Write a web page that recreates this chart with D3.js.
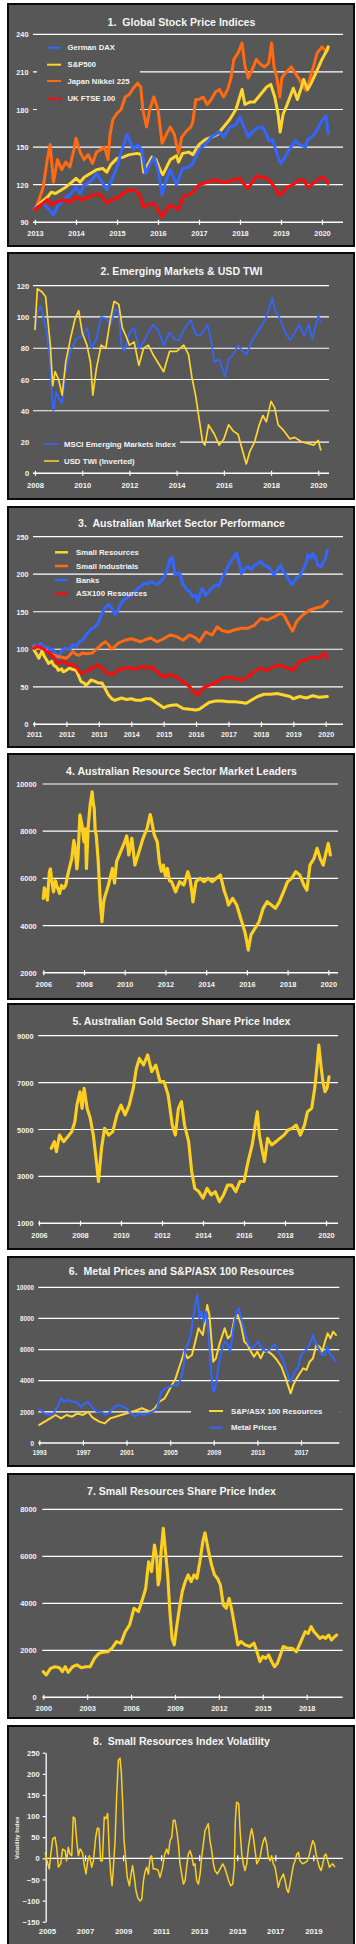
<!DOCTYPE html>
<html><head><meta charset="utf-8">
<script src="https://cdn.jsdelivr.net/npm/d3@7"></script>
<style>
html,body{margin:0;padding:0;background:#fff;}
svg{display:block;font-family:"Liberation Sans",Arial,Helvetica,sans-serif;font-weight:bold;}
</style></head><body>
<svg id="c" width="356" height="1944"></svg>
<script>
// ---------------- DATA ----------------
// Panel 1 : Global Stock Price Indices  ([year, index])
const p1Names = ["German DAX","S&P500","Japan Nikkei 225","UK FTSE 100"];
const p1Dax = [[2013.0,101],[2013.2,105],[2013.35,100],[2013.45,96],[2013.55,103],[2013.7,108],[2013.85,112],[2014.0,118],[2014.1,113],[2014.2,120],[2014.35,122],[2014.5,129],[2014.6,124],[2014.75,116],[2014.85,122],[2015.0,134],[2015.1,146],[2015.25,160],[2015.4,148],[2015.5,152],[2015.6,148],[2015.7,129],[2015.8,136],[2015.9,142],[2016.0,132],[2016.1,112],[2016.2,124],[2016.3,132],[2016.45,120],[2016.6,133],[2016.75,134],[2016.85,137],[2017.0,148],[2017.15,152],[2017.3,158],[2017.5,162],[2017.6,158],[2017.75,166],[2017.9,168],[2018.0,174],[2018.1,166],[2018.2,158],[2018.3,162],[2018.4,165],[2018.55,166],[2018.65,160],[2018.7,155],[2018.8,156],[2018.85,150],[2018.95,140],[2019.0,137],[2019.1,142],[2019.2,148],[2019.35,155],[2019.45,152],[2019.6,150],[2019.65,156],[2019.75,158],[2019.85,162],[2020.0,171],[2020.1,175],[2020.15,161]];
const p1Sp500 = [[2013.0,101],[2013.15,106],[2013.3,110],[2013.4,114],[2013.5,113],[2013.65,116],[2013.75,118],[2013.9,122],[2014.0,125],[2014.1,122],[2014.2,126],[2014.35,129],[2014.5,132],[2014.65,133],[2014.75,130],[2014.85,136],[2015.0,141],[2015.15,142],[2015.3,144],[2015.5,145],[2015.6,144],[2015.65,130],[2015.75,136],[2015.85,142],[2015.95,140],[2016.05,132],[2016.12,128],[2016.3,140],[2016.45,143],[2016.5,138],[2016.6,145],[2016.75,146],[2016.85,144],[2017.0,152],[2017.15,156],[2017.3,158],[2017.45,160],[2017.6,166],[2017.75,172],[2017.9,180],[2018.05,196],[2018.12,184],[2018.25,186],[2018.35,186],[2018.5,192],[2018.65,198],[2018.75,200],[2018.85,190],[2018.93,176],[2018.98,162],[2019.05,176],[2019.15,184],[2019.3,197],[2019.4,188],[2019.5,198],[2019.55,204],[2019.65,196],[2019.75,202],[2019.85,209],[2020.0,220],[2020.1,226],[2020.15,230]];
const p1Nikkei = [[2013.0,100],[2013.1,108],[2013.2,118],[2013.3,140],[2013.37,152],[2013.45,122],[2013.55,140],[2013.65,132],[2013.75,138],[2013.85,134],[2013.95,148],[2014.0,157],[2014.1,146],[2014.2,140],[2014.3,144],[2014.4,137],[2014.5,146],[2014.6,148],[2014.7,150],[2014.78,140],[2014.83,160],[2014.9,172],[2015.0,177],[2015.1,180],[2015.2,190],[2015.3,192],[2015.4,197],[2015.5,201],[2015.58,198],[2015.63,180],[2015.72,166],[2015.8,180],[2015.9,190],[2016.0,180],[2016.1,153],[2016.2,160],[2016.3,166],[2016.4,160],[2016.45,152],[2016.5,145],[2016.58,158],[2016.7,163],[2016.8,166],[2016.85,170],[2016.92,188],[2017.0,188],[2017.1,190],[2017.2,184],[2017.3,188],[2017.4,194],[2017.5,196],[2017.6,190],[2017.7,196],[2017.78,205],[2017.85,220],[2017.95,225],[2018.05,233],[2018.12,215],[2018.2,205],[2018.3,212],[2018.4,220],[2018.5,216],[2018.6,214],[2018.7,217],[2018.77,233],[2018.83,214],[2018.9,205],[2018.97,190],[2019.02,205],[2019.1,209],[2019.2,212],[2019.25,214],[2019.35,209],[2019.45,204],[2019.55,198],[2019.62,195],[2019.7,204],[2019.8,215],[2019.88,225],[2020.0,230],[2020.1,226],[2020.15,228]];
const p1Ftse = [[2013.0,100],[2013.15,104],[2013.3,108],[2013.4,104],[2013.5,106],[2013.7,108],[2013.85,106],[2014.0,110],[2014.15,108],[2014.3,110],[2014.45,112],[2014.6,112],[2014.75,105],[2014.85,108],[2015.0,109],[2015.15,113],[2015.3,116],[2015.45,115],[2015.55,112],[2015.65,102],[2015.75,104],[2015.9,105],[2016.0,100],[2016.1,94],[2016.2,100],[2016.3,104],[2016.4,102],[2016.5,100],[2016.55,104],[2016.6,110],[2016.75,112],[2016.85,114],[2017.0,120],[2017.2,122],[2017.4,124],[2017.55,122],[2017.7,122],[2017.85,124],[2018.0,125],[2018.1,120],[2018.2,117],[2018.3,122],[2018.4,127],[2018.5,126],[2018.6,126],[2018.75,122],[2018.85,118],[2018.95,112],[2019.0,112],[2019.15,118],[2019.3,120],[2019.45,124],[2019.55,124],[2019.65,118],[2019.75,120],[2019.9,124],[2020.0,126],[2020.1,124],[2020.15,121]];
const p1YTicks = [90,120,150,180,210,240];
const p1XTicks = [2013,2014,2015,2016,2017,2018,2019,2020];

// Panel 2 : Emerging Markets & USD TWI
const p2Names = ["MSCI Emerging Markets Index","USD TWI (Inverted)"];
const p2Msci = [[2008.0,92],[2008.1,103],[2008.25,107],[2008.4,97],[2008.5,90],[2008.6,76],[2008.7,55],[2008.78,40],[2008.9,52],[2009.0,48],[2009.15,45],[2009.3,65],[2009.5,78],[2009.75,86],[2010.0,88],[2010.2,93],[2010.4,80],[2010.6,86],[2010.8,100],[2011.0,99],[2011.2,95],[2011.4,105],[2011.55,103],[2011.65,82],[2011.8,78],[2012.0,90],[2012.2,93],[2012.4,80],[2012.6,84],[2012.8,90],[2013.0,95],[2013.2,92],[2013.45,82],[2013.7,90],[2013.9,86],[2014.1,85],[2014.3,92],[2014.6,98],[2014.8,89],[2015.0,88],[2015.3,95],[2015.45,86],[2015.6,71],[2015.8,73],[2016.05,62],[2016.2,73],[2016.4,76],[2016.6,82],[2016.8,78],[2016.95,76],[2017.2,85],[2017.5,92],[2017.8,100],[2018.05,112],[2018.15,105],[2018.35,100],[2018.55,92],[2018.8,85],[2019.0,90],[2019.2,95],[2019.4,88],[2019.6,95],[2019.75,86],[2020.0,101],[2020.1,97]];
const p2Usd = [[2008.0,92],[2008.1,118],[2008.3,116],[2008.45,113],[2008.55,97],[2008.65,82],[2008.75,56],[2008.85,65],[2009.0,60],[2009.15,50],[2009.3,71],[2009.5,86],[2009.7,99],[2009.85,104],[2010.0,90],[2010.2,82],[2010.35,71],[2010.45,50],[2010.6,67],[2010.8,82],[2011.0,80],[2011.2,99],[2011.35,110],[2011.55,108],[2011.7,93],[2011.85,88],[2012.0,82],[2012.2,84],[2012.4,69],[2012.6,80],[2012.8,82],[2013.0,76],[2013.2,71],[2013.45,65],[2013.7,78],[2014.0,78],[2014.3,82],[2014.5,76],[2014.65,61],[2014.8,50],[2014.95,35],[2015.1,20],[2015.2,18],[2015.35,31],[2015.6,25],[2015.8,18],[2016.0,22],[2016.2,31],[2016.4,27],[2016.6,25],[2016.8,14],[2016.95,6],[2017.1,14],[2017.3,20],[2017.5,31],[2017.65,37],[2017.8,33],[2018.0,46],[2018.15,42],[2018.3,31],[2018.5,28],[2018.8,22],[2019.0,23],[2019.3,20],[2019.6,19],[2019.8,18],[2020.0,21],[2020.1,15]];
const p2YTicks = [0,20,40,60,80,100,120];
const p2XTicks = [2008,2010,2012,2014,2016,2018,2020];

// Panel 3 : Australian Market Sector Performance
const p3Names = ["Small Resources","Small Industrials","Banks","ASX100 Resources"];
const p3Banks = [[2011.0,106],[2011.1,104],[2011.2,108],[2011.3,103],[2011.4,103],[2011.5,100],[2011.6,99],[2011.7,92],[2011.75,88],[2011.85,98],[2011.95,101],[2012.1,100],[2012.2,106],[2012.3,104],[2012.4,110],[2012.5,112],[2012.6,119],[2012.7,124],[2012.8,128],[2012.9,130],[2013.0,137],[2013.1,148],[2013.2,155],[2013.3,160],[2013.4,155],[2013.5,146],[2013.6,152],[2013.7,163],[2013.85,168],[2014.0,172],[2014.1,176],[2014.2,181],[2014.3,184],[2014.4,188],[2014.5,187],[2014.6,190],[2014.7,188],[2014.8,186],[2014.9,190],[2015.0,195],[2015.1,205],[2015.2,220],[2015.27,223],[2015.35,199],[2015.45,202],[2015.5,201],[2015.6,186],[2015.7,180],[2015.8,177],[2015.9,170],[2016.0,172],[2016.05,163],[2016.15,178],[2016.2,181],[2016.3,172],[2016.4,177],[2016.5,182],[2016.6,186],[2016.7,184],[2016.8,195],[2016.9,202],[2017.0,212],[2017.15,222],[2017.25,228],[2017.35,212],[2017.4,201],[2017.5,207],[2017.6,210],[2017.7,206],[2017.8,212],[2017.9,214],[2018.0,217],[2018.1,212],[2018.2,210],[2018.3,206],[2018.4,199],[2018.5,205],[2018.6,212],[2018.7,204],[2018.8,197],[2018.9,190],[2018.95,186],[2019.05,192],[2019.1,195],[2019.2,198],[2019.3,206],[2019.4,215],[2019.45,226],[2019.55,222],[2019.6,228],[2019.7,220],[2019.75,212],[2019.85,210],[2019.9,214],[2020.0,222],[2020.05,232]];
const p3SmallInd = [[2011.0,103],[2011.2,101],[2011.4,97],[2011.6,92],[2011.8,90],[2012.0,88],[2012.1,92],[2012.2,97],[2012.3,93],[2012.4,92],[2012.5,95],[2012.6,94],[2012.8,95],[2012.9,99],[2013.0,103],[2013.1,107],[2013.2,110],[2013.3,106],[2013.4,100],[2013.5,104],[2013.6,108],[2013.8,112],[2014.0,114],[2014.15,112],[2014.3,110],[2014.45,113],[2014.6,115],[2014.8,110],[2015.0,114],[2015.2,119],[2015.4,117],[2015.6,112],[2015.8,119],[2016.0,115],[2016.1,110],[2016.3,123],[2016.5,119],[2016.65,130],[2016.8,125],[2017.0,123],[2017.2,126],[2017.4,128],[2017.6,128],[2017.8,132],[2018.0,141],[2018.2,139],[2018.4,143],[2018.6,148],[2018.72,145],[2018.8,138],[2018.9,130],[2018.98,124],[2019.1,137],[2019.3,146],[2019.5,152],[2019.7,155],[2019.9,157],[2020.05,164]];
const p3AsxRes = [[2011.0,101],[2011.1,104],[2011.2,103],[2011.3,100],[2011.4,97],[2011.5,94],[2011.6,90],[2011.75,81],[2011.9,84],[2012.0,82],[2012.1,79],[2012.2,80],[2012.3,77],[2012.4,70],[2012.5,68],[2012.6,70],[2012.8,75],[2013.0,79],[2013.1,75],[2013.2,70],[2013.4,66],[2013.6,72],[2013.8,75],[2014.0,75],[2014.15,73],[2014.3,77],[2014.5,75],[2014.6,77],[2014.8,70],[2015.0,63],[2015.2,66],[2015.4,63],[2015.6,57],[2015.8,50],[2015.95,42],[2016.05,39],[2016.2,48],[2016.4,52],[2016.6,55],[2016.8,61],[2017.0,63],[2017.2,61],[2017.4,59],[2017.6,63],[2017.8,70],[2018.0,75],[2018.2,72],[2018.4,77],[2018.6,79],[2018.8,75],[2019.0,72],[2019.2,84],[2019.4,86],[2019.6,90],[2019.8,88],[2019.95,95],[2020.05,88]];
const p3SmallRes = [[2011.0,99],[2011.1,92],[2011.15,88],[2011.25,98],[2011.3,92],[2011.4,85],[2011.45,81],[2011.55,84],[2011.6,79],[2011.7,76],[2011.75,72],[2011.85,74],[2011.9,70],[2012.0,72],[2012.1,75],[2012.2,73],[2012.3,72],[2012.4,62],[2012.45,57],[2012.55,55],[2012.6,52],[2012.7,56],[2012.75,59],[2012.9,57],[2013.0,55],[2013.1,55],[2013.2,47],[2013.3,39],[2013.4,34],[2013.5,32],[2013.7,35],[2013.85,33],[2014.0,34],[2014.15,32],[2014.3,32],[2014.45,34],[2014.6,34],[2014.8,28],[2014.9,25],[2015.0,22],[2015.1,24],[2015.2,25],[2015.4,26],[2015.6,21],[2015.8,20],[2016.0,19],[2016.1,20],[2016.2,23],[2016.4,29],[2016.6,31],[2016.8,31],[2017.0,30],[2017.2,30],[2017.4,29],[2017.55,28],[2017.7,32],[2017.9,37],[2018.1,40],[2018.3,40],[2018.5,41],[2018.7,39],[2018.9,37],[2019.0,34],[2019.2,37],[2019.4,35],[2019.6,38],[2019.8,36],[2020.05,37]];
const p3YTicks = [0,50,100,150,200,250];
const p3XTicks = [2011,2012,2013,2014,2015,2016,2017,2018,2019,2020];

// Panel 4 : Australian Resource Sector Market Leaders
const p4Leaders = [[2006.0,5150],[2006.05,5600],[2006.1,5500],[2006.2,5080],[2006.3,6280],[2006.35,6400],[2006.4,6000],[2006.5,5430],[2006.6,5900],[2006.65,5720],[2006.8,5360],[2006.9,5700],[2007.0,5580],[2007.1,5700],[2007.2,6140],[2007.3,6500],[2007.4,6850],[2007.5,7600],[2007.55,7410],[2007.65,6400],[2007.7,6850],[2007.8,8690],[2007.9,8260],[2008.0,7550],[2008.07,8100],[2008.12,6420],[2008.2,8120],[2008.3,9100],[2008.4,9670],[2008.45,9200],[2008.5,8970],[2008.55,8000],[2008.6,7840],[2008.7,6710],[2008.8,5010],[2008.88,4160],[2008.95,4900],[2009.0,5150],[2009.2,5720],[2009.4,6420],[2009.5,5800],[2009.6,6710],[2009.8,7130],[2010.0,7550],[2010.1,7800],[2010.2,6990],[2010.35,7700],[2010.5,6560],[2010.7,7130],[2010.9,7700],[2011.1,8120],[2011.25,8700],[2011.3,8540],[2011.45,7840],[2011.6,7550],[2011.7,6710],[2011.8,6300],[2011.9,6560],[2012.0,6100],[2012.1,6420],[2012.2,5900],[2012.3,5860],[2012.5,5430],[2012.7,5860],[2012.9,5720],[2013.1,6280],[2013.2,6000],[2013.3,5430],[2013.35,5000],[2013.5,5860],[2013.7,6000],[2013.9,5860],[2014.1,6000],[2014.3,5860],[2014.5,6000],[2014.7,6140],[2014.9,5430],[2015.0,5200],[2015.1,4870],[2015.3,5150],[2015.5,4870],[2015.7,4300],[2015.9,3740],[2016.0,3300],[2016.07,2960],[2016.2,3600],[2016.4,3880],[2016.6,4160],[2016.8,4730],[2017.0,5010],[2017.2,4870],[2017.4,4730],[2017.6,5010],[2017.8,5430],[2018.0,5860],[2018.2,6000],[2018.4,6280],[2018.6,6140],[2018.8,5720],[2018.95,5500],[2019.1,6560],[2019.3,6850],[2019.45,7270],[2019.6,6850],[2019.75,6560],[2019.9,7130],[2020.0,7480],[2020.1,6990]];
const p4YTicks = [2000,4000,6000,8000,10000];
const p4XTicks = [2006,2008,2010,2012,2014,2016,2018,2020];

// Panel 5 : Australian Gold Sector Share Price Index
const p5Gold = [[2006.6,4200],[2006.75,4480],[2006.85,4050],[2007.0,4760],[2007.2,4480],[2007.4,4690],[2007.6,4910],[2007.75,5330],[2007.85,6040],[2008.0,6610],[2008.1,5900],[2008.2,6760],[2008.35,5900],[2008.5,5480],[2008.65,4760],[2008.8,3630],[2008.9,2780],[2009.05,4200],[2009.2,5050],[2009.4,4760],[2009.6,4910],[2009.8,5620],[2010.0,6040],[2010.2,5620],[2010.4,6040],[2010.6,6760],[2010.75,7610],[2010.9,8030],[2011.1,7750],[2011.3,8180],[2011.5,7470],[2011.7,7750],[2011.9,7040],[2012.1,7040],[2012.3,6470],[2012.5,5190],[2012.65,4760],[2012.8,5900],[2012.95,6190],[2013.1,5190],[2013.3,4480],[2013.45,3200],[2013.6,2490],[2013.8,2350],[2014.0,2070],[2014.2,2490],[2014.4,2210],[2014.6,2350],[2014.8,1920],[2015.0,2210],[2015.2,2630],[2015.4,2630],[2015.6,2350],[2015.8,2780],[2016.0,2780],[2016.2,3630],[2016.4,4340],[2016.6,5480],[2016.65,5760],[2016.75,4760],[2016.9,4050],[2017.0,3630],[2017.15,4620],[2017.35,4340],[2017.55,4480],[2017.75,4620],[2017.95,4760],[2018.15,4980],[2018.35,5050],[2018.55,5190],[2018.75,4760],[2018.95,5190],[2019.1,5760],[2019.3,5900],[2019.45,6760],[2019.55,7610],[2019.65,8600],[2019.75,7750],[2019.85,7040],[2019.95,6610],[2020.05,6760],[2020.15,7250]];
const p5YTicks = [1000,3000,5000,7000,9000];
const p5XTicks = [2006,2008,2010,2012,2014,2016,2018,2020];

// Panel 6 : Metal Prices and S&P/ASX 100 Resources
const p6Names = ["S&P/ASX 100 Resources","Metal Prices"];
const p6AsxRes = [[1993.0,1160],[1993.5,1370],[1994.0,1580],[1994.5,1800],[1995.0,1580],[1995.5,1800],[1996.0,1690],[1996.5,1900],[1997.0,1800],[1997.5,2010],[1997.8,1690],[1998.0,1580],[1998.5,1370],[1999.0,1260],[1999.5,1580],[2000.0,1690],[2000.5,1800],[2001.0,1900],[2001.5,2010],[2002.0,2120],[2002.4,2230],[2002.8,2120],[2003.2,2010],[2003.6,2230],[2004.0,2650],[2004.5,2870],[2005.0,3510],[2005.5,4150],[2005.8,4800],[2006.0,5220],[2006.3,5870],[2006.6,5440],[2007.0,5650],[2007.3,6510],[2007.6,7370],[2007.8,7150],[2008.0,6940],[2008.2,7790],[2008.4,8870],[2008.6,8220],[2008.8,6510],[2008.95,5220],[2009.2,5440],[2009.5,6300],[2009.8,6940],[2010.0,7370],[2010.3,6720],[2010.6,6940],[2010.9,8010],[2011.2,8220],[2011.5,7580],[2011.8,6510],[2012.1,6300],[2012.4,5870],[2012.7,5550],[2013.0,5870],[2013.3,5440],[2013.6,5870],[2014.0,5870],[2014.4,5650],[2014.8,5330],[2015.2,4900],[2015.6,4150],[2015.9,3510],[2016.05,3190],[2016.3,3730],[2016.6,4150],[2016.9,4480],[2017.2,4800],[2017.5,4690],[2017.8,5220],[2018.1,5440],[2018.4,6300],[2018.7,6190],[2018.95,5870],[2019.2,6510],[2019.45,7040],[2019.7,6720],[2019.95,7150],[2020.2,6940]];
const p6Metals = [[1993.0,2180],[1993.5,1900],[1994.0,1800],[1994.3,1900],[1994.6,2230],[1995.0,2870],[1995.3,2650],[1995.6,2760],[1996.0,2650],[1996.4,2650],[1996.8,2330],[1997.2,2550],[1997.5,2650],[1997.9,2230],[1998.3,2010],[1998.7,2010],[1999.1,1800],[1999.5,2010],[1999.9,2330],[2000.3,2440],[2000.7,2330],[2001.0,2230],[2001.4,1900],[2001.8,1690],[2002.2,1900],[2002.6,1800],[2003.0,1900],[2003.4,2010],[2003.8,2230],[2004.2,3300],[2004.6,3510],[2005.0,3620],[2005.4,3730],[2005.7,3730],[2006.0,4150],[2006.2,4800],[2006.4,6080],[2006.6,6300],[2006.9,6940],[2007.1,8010],[2007.3,8870],[2007.5,9500],[2007.7,8010],[2007.9,8440],[2008.1,7790],[2008.3,8440],[2008.5,7150],[2008.7,5220],[2008.85,3730],[2009.0,3300],[2009.2,3730],[2009.4,4800],[2009.7,5870],[2010.0,6510],[2010.3,6300],[2010.5,5870],[2010.8,7370],[2011.1,8440],[2011.3,8650],[2011.6,7790],[2011.9,6940],[2012.2,6300],[2012.5,6080],[2012.8,6300],[2013.1,6510],[2013.4,6080],[2013.8,5870],[2014.2,6080],[2014.6,6300],[2014.9,5870],[2015.3,5440],[2015.6,4800],[2015.9,4150],[2016.1,3940],[2016.4,4580],[2016.7,4800],[2017.0,5650],[2017.3,5870],[2017.6,6080],[2017.9,6510],[2018.1,6940],[2018.3,6510],[2018.6,6080],[2018.9,5650],[2019.2,5650],[2019.4,6190],[2019.7,5650],[2020.0,5440],[2020.2,5220]];
const p6YTicks = [0,2000,4000,6000,8000,10000];
const p6XTicks = [1993,1997,2001,2005,2009,2013,2017];

// Panel 7 : Small Resources Share Price Index
const p7SmallRes = [[2000.0,1090],[2000.2,950],[2000.5,1230],[2000.8,1300],[2001.1,1260],[2001.3,1090],[2001.5,1300],[2001.7,1060],[2002.0,1300],[2002.3,1380],[2002.6,1260],[2002.9,1300],[2003.2,1300],[2003.5,1660],[2003.8,1870],[2004.1,1920],[2004.4,1940],[2004.7,2090],[2005.0,2370],[2005.3,2300],[2005.6,2790],[2005.9,3080],[2006.2,3790],[2006.5,3650],[2006.8,4210],[2007.0,4640],[2007.2,5770],[2007.4,5350],[2007.6,6480],[2007.75,5920],[2007.85,4780],[2007.95,5060],[2008.05,6200],[2008.2,7190],[2008.35,6200],[2008.5,5210],[2008.65,3650],[2008.8,2510],[2008.95,2230],[2009.1,2940],[2009.3,3790],[2009.5,4500],[2009.7,4920],[2009.9,5210],[2010.1,4920],[2010.3,5210],[2010.5,5060],[2010.7,5770],[2010.9,6620],[2011.05,7000],[2011.3,6200],[2011.5,5630],[2011.7,5210],[2011.9,5060],[2012.1,4780],[2012.3,3930],[2012.5,3790],[2012.7,4210],[2012.9,3650],[2013.1,2940],[2013.3,2230],[2013.5,2370],[2013.8,2230],[2014.1,2160],[2014.4,2300],[2014.6,1940],[2014.8,1520],[2015.0,1730],[2015.2,1660],[2015.4,1800],[2015.6,1520],[2015.8,1300],[2016.0,1450],[2016.2,1800],[2016.4,2160],[2016.7,2090],[2017.0,2090],[2017.3,1940],[2017.6,2370],[2017.9,2790],[2018.1,2720],[2018.3,3010],[2018.5,2790],[2018.7,2650],[2018.9,2510],[2019.1,2580],[2019.3,2510],[2019.5,2650],[2019.7,2440],[2019.9,2580],[2020.05,2650]];
const p7YTicks = [0,2000,4000,6000,8000];
const p7XTicks = [2000,2003,2006,2009,2012,2015,2018];

// Panel 8 : Small Resources Index Volatility
const p8Vol = [[2004.9,14],[2004.98,-2],[2005.12,-25],[2005.19,6],[2005.3,46],[2005.42,50],[2005.51,26],[2005.6,-21],[2005.72,-13],[2005.82,22],[2005.95,18],[2006.03,-6],[2006.12,26],[2006.21,10],[2006.3,6],[2006.38,98],[2006.47,94],[2006.56,42],[2006.65,6],[2006.74,22],[2006.86,14],[2006.95,-13],[2007.05,-37],[2007.14,-6],[2007.23,6],[2007.35,-21],[2007.44,-6],[2007.56,50],[2007.65,72],[2007.73,70],[2007.82,-6],[2007.91,-6],[2008.01,98],[2008.1,94],[2008.19,106],[2008.28,10],[2008.35,-37],[2008.42,-65],[2008.49,-21],[2008.58,42],[2008.66,145],[2008.75,232],[2008.84,237],[2008.91,201],[2008.98,129],[2009.05,42],[2009.12,6],[2009.22,-45],[2009.33,-65],[2009.42,-37],[2009.5,-17],[2009.59,-45],[2009.68,-77],[2009.77,-93],[2009.89,-101],[2009.98,-97],[2010.07,-53],[2010.15,-33],[2010.24,-21],[2010.33,-37],[2010.42,2],[2010.5,6],[2010.59,-25],[2010.73,-25],[2010.85,-29],[2010.94,-45],[2011.06,-25],[2011.17,6],[2011.29,22],[2011.38,10],[2011.47,42],[2011.56,50],[2011.64,90],[2011.73,90],[2011.82,66],[2011.91,34],[2011.99,-13],[2012.08,-37],[2012.17,-61],[2012.26,-53],[2012.34,-21],[2012.43,10],[2012.52,18],[2012.61,6],[2012.7,-17],[2012.78,-13],[2012.87,-53],[2012.96,-61],[2013.05,-37],[2013.13,2],[2013.22,34],[2013.31,66],[2013.4,74],[2013.48,82],[2013.57,42],[2013.66,18],[2013.75,-13],[2013.83,-29],[2013.96,-37],[2014.1,-25],[2014.24,-13],[2014.33,-21],[2014.45,-37],[2014.55,-53],[2014.66,-65],[2014.76,-61],[2014.85,-21],[2014.9,90],[2014.97,133],[2015.08,129],[2015.15,66],[2015.24,10],[2015.32,-13],[2015.41,-29],[2015.5,-13],[2015.59,26],[2015.67,50],[2015.76,70],[2015.85,50],[2015.94,18],[2016.03,-13],[2016.11,-6],[2016.2,2],[2016.29,26],[2016.38,42],[2016.46,50],[2016.55,34],[2016.64,2],[2016.73,-6],[2016.81,6],[2016.9,-13],[2016.99,-21],[2017.08,-45],[2017.16,-69],[2017.25,-53],[2017.34,-45],[2017.43,-37],[2017.52,-53],[2017.6,-73],[2017.69,-81],[2017.78,-61],[2017.87,-37],[2017.95,-17],[2018.04,-6],[2018.13,10],[2018.22,14],[2018.3,-6],[2018.43,-13],[2018.57,-10],[2018.69,-6],[2018.8,10],[2018.88,26],[2018.97,42],[2019.06,34],[2019.15,10],[2019.23,-6],[2019.32,-21],[2019.41,-29],[2019.5,-13],[2019.58,6],[2019.67,10],[2019.76,-6],[2019.85,-21],[2019.93,-17],[2020.02,-13],[2020.14,-21]];
const p8YTicks = [-150,-100,-50,0,50,100,150,200,250];
const p8XTicks = [2005,2007,2009,2011,2013,2015,2017,2019];

// ---------------- STYLE ----------------
const BG = "#575757", TXT = "#f4f4f4", GRID = "#ffffff";
const BLUE = "#3366ff", YEL = "#ffd52e", ORA = "#ff6a12", RED = "#ff0a0a", GOLD = "#fdd020";

const svg = d3.select("#c");

function drawPanel(p) {
  const g = svg.append("g");
  g.append("rect").attr("x", 8).attr("y", p.box[0]).attr("width", 346).attr("height", p.box[1] - p.box[0])
    .attr("fill", BG).attr("stroke", "#0a0a0a").attr("stroke-width", 2);
  g.append("text").attr("x", 181.5).attr("y", p.titleY).attr("dy", "0.35em").attr("text-anchor", "middle")
    .attr("fill", TXT).style("font-size", "10.6px").style("white-space", "pre").text(p.title);
  const x = d3.scaleLinear().domain(p.xDom).range(p.xPix);
  const y = d3.scaleLinear().domain(p.yDom).range(p.yPix);
  const base = p.yTicks[0];
  g.append("g").selectAll("line").data(p.yTicks.slice(1)).join("line")
    .attr("x1", p.gridX[0]).attr("x2", p.gridX[1]).attr("y1", d => y(d)).attr("y2", d => y(d))
    .attr("stroke", GRID).attr("stroke-width", 1.2);
  g.append("line").attr("x1", p.gridX[0]).attr("x2", p.gridX[1]).attr("y1", y(base)).attr("y2", y(base))
    .attr("stroke", GRID).attr("stroke-width", 1.5);
  const xt = g.append("g").attr("transform", `translate(0,${y(base) - 2.5})`)
    .call(d3.axisBottom(x).tickValues(p.xTicks).tickSize(5).tickFormat(""));
  xt.select(".domain").remove();
  xt.selectAll("line").attr("stroke", GRID).attr("stroke-width", 1.2);
  const xl = g.append("g").attr("transform", `translate(0,${p.xLabelY})`)
    .call(d3.axisBottom(x).tickValues(p.xTicks).tickSize(0).tickPadding(0).tickFormat(d3.format("d")));
  xl.select(".domain").remove();
  xl.selectAll("text").attr("y", 0).attr("dy", "0.35em").attr("fill", TXT)
    .style("font-size", (p.fs || 7.4) + "px").style("font-family", "Liberation Sans, Arial").style("font-weight", "bold");
  const yl = g.append("g").attr("transform", `translate(${p.yLabelX},0)`)
    .call(d3.axisLeft(y).tickValues(p.yTicks).tickSize(0).tickPadding(0).tickFormat(d3.format("d")));
  yl.select(".domain").remove();
  yl.selectAll("text").attr("fill", TXT).attr("dy", "0.35em")
    .style("font-size", (p.fs || 7.3) + "px").style("font-family", "Liberation Sans, Arial").style("font-weight", "bold");
  if (p.legend && p.legend.box) {
    const b = p.legend.box;
    g.append("rect").attr("x", b[0]).attr("y", b[1]).attr("width", b[2] - b[0]).attr("height", b[3] - b[1]).attr("fill", BG);
  }
  const line = d3.line().x(d => x(d[0])).y(d => y(d[1]));
  p.series.forEach(s => {
    g.append("path").datum(s.data).attr("d", line).attr("fill", "none").attr("stroke", s.color)
      .attr("stroke-width", s.w).attr("stroke-linejoin", "round").attr("stroke-linecap", "round");
  });
  if (p.legend) {
    const L = p.legend;
    const it = g.append("g").selectAll("g").data(L.items).join("g");
    it.append("line").attr("x1", L.sw[0]).attr("x2", L.sw[1]).attr("y1", d => d.y).attr("y2", d => d.y)
      .attr("stroke", d => d.color).attr("stroke-width", L.sww);
    it.append("text").attr("x", L.tx).attr("y", d => d.y).attr("dy", "0.35em").attr("fill", TXT)
      .style("font-size", L.fs + "px").text(d => d.label);
  }
  return g;
}

drawPanel({
  box: [4, 246], title: "1.  Global Stock Price Indices", titleY: 22,
  xDom: [2013, 2020], xPix: [35, 322], yDom: [90, 240], yPix: [222.3, 34.3],
  gridX: [33, 343], yTicks: p1YTicks, xTicks: p1XTicks, xLabelY: 233.3, yLabelX: 28.5,
  legend: { box: [37, 40, 140, 113], sw: [47, 61], sww: 2, tx: 67.5, fs: 7.7,
    items: [{label: p1Names[0], color: BLUE, y: 47.7}, {label: p1Names[1], color: YEL, y: 64.7},
            {label: p1Names[2], color: ORA, y: 81}, {label: p1Names[3], color: RED, y: 98.7}] },
  series: [{data: p1Nikkei, color: ORA, w: 3}, {data: p1Sp500, color: YEL, w: 3},
           {data: p1Dax, color: BLUE, w: 3}, {data: p1Ftse, color: RED, w: 3}]
});

drawPanel({
  box: [253, 499], title: "2. Emerging Markets & USD TWI", titleY: 271.7,
  xDom: [2008, 2020], xPix: [35, 318.3], yDom: [0, 120], yPix: [473.3, 285.7],
  gridX: [33, 329], yTicks: p2YTicks, xTicks: p2XTicks, xLabelY: 485, yLabelX: 29.3, fs: 7.6,
  legend: { box: [33, 432, 180, 470], sw: [44, 59], sww: 1.5, tx: 64, fs: 7.8,
    items: [{label: p2Names[0], color: BLUE, y: 444}, {label: p2Names[1], color: YEL, y: 461}] },
  series: [{data: p2Msci, color: BLUE, w: 1.7}, {data: p2Usd, color: YEL, w: 1.7}]
});

drawPanel({
  box: [507, 747], title: "3.  Australian Market Sector Performance", titleY: 523.3,
  xDom: [2011, 2020], xPix: [34, 325.7], yDom: [0, 250], yPix: [724.3, 536.7],
  gridX: [33, 343], yTicks: p3YTicks, xTicks: p3XTicks, xLabelY: 734.3, yLabelX: 28.5, fs: 7.2,
  legend: { box: null, sw: [55, 68], sww: 2.5, tx: 76, fs: 7.8,
    items: [{label: p3Names[0], color: YEL, y: 552.3}, {label: p3Names[1], color: ORA, y: 566},
            {label: p3Names[2], color: BLUE, y: 580}, {label: p3Names[3], color: RED, y: 593.7}] },
  series: [{data: p3Banks, color: BLUE, w: 3}, {data: p3SmallInd, color: ORA, w: 3},
           {data: p3SmallRes, color: YEL, w: 3}, {data: p3AsxRes, color: RED, w: 3}]
});

drawPanel({
  box: [754, 999], title: "4. Australian Resource Sector Market Leaders", titleY: 771,
  xDom: [2006, 2020], xPix: [43.3, 328.3], yDom: [2000, 10000], yPix: [972.7, 784],
  gridX: [42.7, 338], yTicks: p4YTicks, xTicks: p4XTicks, xLabelY: 984.3, yLabelX: 36.7, fs: 7.4,
  series: [{data: p4Leaders, color: GOLD, w: 3.2}]
});

drawPanel({
  box: [1004, 1249], title: "5. Australian Gold Sector Share Price Index", titleY: 1021.7,
  xDom: [2006, 2020], xPix: [39, 326], yDom: [1000, 9000], yPix: [1223.3, 1035.7],
  gridX: [38.3, 338], yTicks: p5YTicks, xTicks: p5XTicks, xLabelY: 1235, yLabelX: 33.5, fs: 7.4,
  series: [{data: p5Gold, color: GOLD, w: 3.1}]
});

drawPanel({
  box: [1257, 1466], title: "6.  Metal Prices and S&P/ASX 100 Resources", titleY: 1271.7,
  xDom: [1993, 2017], xPix: [39.3, 301], yDom: [0, 10000], yPix: [1443, 1287.3],
  gridX: [38.3, 339.3], yTicks: p6YTicks, xTicks: p6XTicks, xLabelY: 1452.3, yLabelX: 34, fs: 6.3,
  legend: { box: [191, 1401, 339, 1438], sw: [209, 223], sww: 2, tx: 231, fs: 7.8,
    items: [{label: p6Names[0], color: YEL, y: 1411}, {label: p6Names[1], color: BLUE, y: 1427.7}] },
  series: [{data: p6AsxRes, color: YEL, w: 2}, {data: p6Metals, color: BLUE, w: 2}]
});

drawPanel({
  box: [1474, 1718], title: "7. Small Resources Share Price Index", titleY: 1491,
  xDom: [2000, 2018], xPix: [43.3, 306.7], yDom: [0, 8000], yPix: [1697.3, 1509.3],
  gridX: [42.3, 342.7], yTicks: p7YTicks, xTicks: p7XTicks, xLabelY: 1708.3, yLabelX: 36.7, fs: 7.4,
  series: [{data: p7SmallRes, color: GOLD, w: 3.1}]
});

(function () {
  const g = svg.append("g");
  g.append("rect").attr("x", 8).attr("y", 1726).attr("width", 346).attr("height", 230)
    .attr("fill", BG).attr("stroke", "#0a0a0a").attr("stroke-width", 2);
  g.append("text").attr("x", 181.5).attr("y", 1741).attr("dy", "0.35em").attr("text-anchor", "middle")
    .attr("fill", TXT).style("font-size", "10.6px").style("white-space", "pre").text("8.  Small Resources Index Volatility");
  const x = d3.scaleLinear().domain([2005, 2019]).range([47, 313.3]);
  const y = d3.scaleLinear().domain([-150, 250]).range([1921.7, 1752.7]);
  const ya = g.append("g").attr("transform", "translate(45.7,0)")
    .call(d3.axisLeft(y).tickValues(p8YTicks).tickSize(3).tickSizeOuter(0).tickPadding(3).tickFormat(d3.format("d")));
  ya.select(".domain").attr("stroke", GRID).attr("stroke-width", 1.3);
  ya.selectAll("line").attr("stroke", GRID).attr("stroke-width", 1.2);
  ya.selectAll("text").attr("fill", TXT).attr("dy", "0.35em").style("font-size", "7.6px")
    .style("font-family", "Liberation Sans, Arial").style("font-weight", "bold");
  g.append("line").attr("x1", 45.7).attr("x2", 343).attr("y1", y(0)).attr("y2", y(0))
    .attr("stroke", GRID).attr("stroke-width", 1.4);
  const xt = g.append("g").attr("transform", `translate(0,${y(0) - 3})`)
    .call(d3.axisBottom(x).tickValues(p8XTicks.slice(1)).tickSize(6).tickFormat(""));
  xt.select(".domain").remove();
  xt.selectAll("line").attr("stroke", GRID).attr("stroke-width", 1.2);
  const xl = g.append("g").attr("transform", "translate(0,1931.7)")
    .call(d3.axisBottom(x).tickValues(p8XTicks).tickSize(0).tickPadding(0).tickFormat(d3.format("d")));
  xl.select(".domain").remove();
  xl.selectAll("text").attr("y", 0).attr("dy", "0.35em").attr("fill", TXT).style("font-size", "7.8px")
    .style("font-family", "Liberation Sans, Arial").style("font-weight", "bold");
  g.append("text").attr("transform", "translate(17,1838) rotate(-90)").attr("text-anchor", "middle")
    .attr("dy", "0.35em").attr("fill", TXT).style("font-size", "6.1px").text("Volatility Index");
  g.append("path").datum(p8Vol).attr("d", d3.line().x(d => x(d[0])).y(d => y(d[1])))
    .attr("fill", "none").attr("stroke", GOLD).attr("stroke-width", 1.5).attr("stroke-linejoin", "round");
})();
</script>
</body></html>
